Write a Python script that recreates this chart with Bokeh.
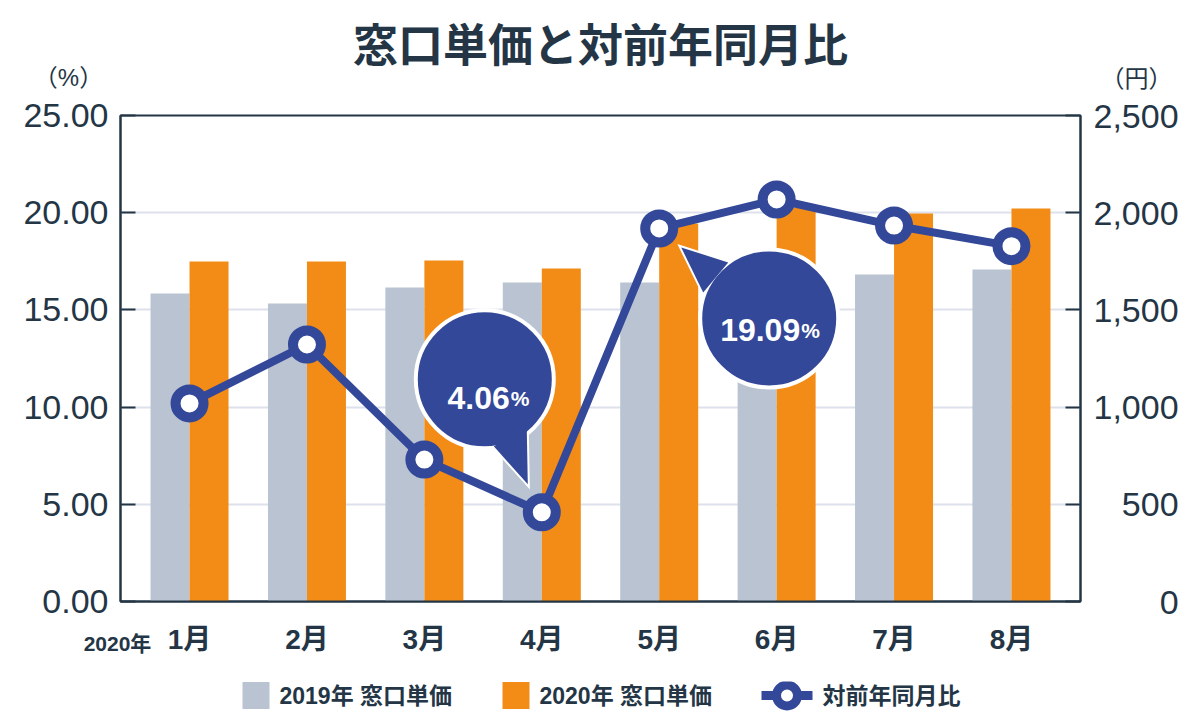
from bokeh.plotting import figure
from bokeh.layouts import column
from bokeh.models import (Range1d, LinearAxis, FixedTicker, Label,
                          ColumnDataSource, NumeralTickFormatter)
from bokeh.transform import dodge
from bokeh.core.properties import value
from bokeh.embed import file_html
from bokeh.resources import INLINE

# ---------------- data ----------------
title_text = "窓口単価と対前年同月比"
months = ["1月", "2月", "3月", "4月", "5月", "6月", "7月", "8月"]
year_label = "2020年"
price_2019 = [1584, 1533, 1615, 1641, 1641, 1680, 1682, 1708]
price_2020 = [1749, 1749, 1754, 1713, 1944, 2027, 1996, 2022]
yoy_pct = [10.19, 13.22, 7.30, 4.59, 19.19, 20.68, 19.34, 18.28]
pct_ticks = [0, 5, 10, 15, 20, 25]
yen_ticks = [0, 500, 1000, 1500, 2000, 2500]
callout_months = ["4月", "5月"]
callout_values = ["4.06", "19.09"]
series_names = ["2019年 窓口単価", "2020年 窓口単価", "対前年同月比"]
unit_left = "（%）"
unit_right = "（円）"

# ---------------- style ----------------
DARK = "#243646"
GREY = "#b9c3d2"
ORANGE = "#f28c17"
BLUE = "#334899"
GRID = "#dde1eb"
JP = "Noto Sans CJK JP"
NUM = "Liberation Sans, Noto Sans CJK JP"

PAGE_W, PAGE_H = 1200, 724
FRAME_L, FRAME_T, FRAME_W, FRAME_H = 120, 115, 960, 486
FRAME_R = PAGE_W - FRAME_L - FRAME_W
FRAME_B = FRAME_T + FRAME_H
TOP_H = 95                      # title strip height
MAIN_TOP = FRAME_T - TOP_H      # main figure border above the frame
MAIN_BOTTOM = 80                # main figure border below the frame
MAIN_H = MAIN_TOP + FRAME_H + MAIN_BOTTOM
LEG_TOP = TOP_H + MAIN_H
LEG_H = PAGE_H - LEG_TOP

X_PAD = 0.588
x_lo, x_hi = 1 - X_PAD, len(months) + X_PAD
y_lo, y_hi = 0, 25
yen_hi = 2500
PXX = FRAME_W / (x_hi - x_lo)
PXY = FRAME_H / (y_hi - y_lo)
BAR_W = 39 / PXX


def page_x(px):          # page pixel -> x data value (shared by all strips)
    return x_lo + (px - FRAME_L) / PXX


def page_y(py):          # page pixel -> percent data value (main plot)
    return y_lo + (FRAME_B - py) / PXY


# ================= title strip =================
t = figure(width=PAGE_W, height=TOP_H, x_range=Range1d(x_lo, x_hi),
           y_range=Range1d(TOP_H, 0), output_backend="svg", toolbar_location=None,
           x_axis_type=None, y_axis_type=None,
           min_border_left=FRAME_L, min_border_right=FRAME_R,
           min_border_top=0, min_border_bottom=0)
t.outline_line_color = None
t.grid.visible = False
t.background_fill_color = "white"
t.border_fill_color = "white"
t.add_layout(Label(x=page_x(600), y=42, text=title_text, text_align="center",
                   text_baseline="middle", text_font=JP, text_font_size="45px",
                   text_font_style="bold", text_color=DARK))
t.add_layout(Label(x=page_x(68), y=77, text=unit_left, text_align="center",
                   text_baseline="middle", text_font=NUM, text_font_size="24px",
                   text_color=DARK), "left")
t.add_layout(Label(x=page_x(1136), y=78, text=unit_right, text_align="center",
                   text_baseline="middle", text_font=NUM, text_font_size="24px",
                   text_color=DARK), "right")

# ================= main plot =================
p = figure(width=PAGE_W, height=MAIN_H,
           x_range=Range1d(x_lo, x_hi), y_range=Range1d(y_lo, y_hi),
           output_backend="svg", toolbar_location=None,
           min_border_left=FRAME_L, min_border_right=FRAME_R,
           min_border_top=MAIN_TOP, min_border_bottom=MAIN_BOTTOM)
p.extra_y_ranges = {"yen": Range1d(0, yen_hi)}
p.background_fill_color = "white"
p.border_fill_color = "white"
p.outline_line_color = DARK
p.outline_line_width = 2

p.xgrid.visible = False
p.ygrid.ticker = FixedTicker(ticks=pct_ticks)
p.ygrid.grid_line_color = GRID
p.ygrid.grid_line_width = 2

# left axis
la = p.left[0]
la.ticker = FixedTicker(ticks=pct_ticks)
la.formatter = NumeralTickFormatter(format="0.00")
la.major_label_text_font = NUM
la.major_label_text_font_size = "34px"
la.major_label_text_color = DARK
la.major_label_standoff = 12
la.major_tick_in = 15
la.major_tick_out = 0
la.major_tick_line_color = DARK
la.major_tick_line_width = 2
la.minor_tick_line_color = None
la.axis_line_color = DARK
la.axis_line_width = 2

# bottom axis
ba = p.below[0]
ba.ticker = FixedTicker(ticks=list(range(1, len(months) + 1)))
ba.major_label_overrides = {i + 1: m for i, m in enumerate(months)}
ba.major_label_text_font = NUM
ba.major_label_text_font_size = "28px"
ba.major_label_text_font_style = "bold"
ba.major_label_text_color = DARK
ba.major_label_standoff = 22
ba.major_tick_in = 0
ba.major_tick_out = 0
ba.minor_tick_line_color = None
ba.axis_line_color = DARK
ba.axis_line_width = 2

# right axis: labels right-aligned by padding with figure / punctuation spaces
yen_text = [f"{v:,}" for v in yen_ticks]
widest = max(yen_text, key=len)


def pad(s):
    prefix = widest[:len(widest) - len(s)]
    return "".join("\u2008" if c == "," else "\u2007" for c in prefix) + s


ra = LinearAxis(y_range_name="yen", ticker=FixedTicker(ticks=yen_ticks),
                major_label_overrides={v: pad(s) for v, s in zip(yen_ticks, yen_text)})
ra.major_label_text_font = NUM
ra.major_label_text_font_size = "34px"
ra.major_label_text_color = DARK
ra.major_label_standoff = 13
ra.major_tick_in = 15
ra.major_tick_out = 0
ra.major_tick_line_color = DARK
ra.major_tick_line_width = 2
ra.minor_tick_line_color = None
ra.axis_line_color = DARK
ra.axis_line_width = 2
p.add_layout(ra, "right")

# year label (side-panel annotation below the axis, positioned in data units)
p.add_layout(Label(x=page_x(117), y=page_y(643), text=year_label, text_align="center",
                   text_baseline="middle", text_font=NUM, text_font_size="21px",
                   text_font_style="bold", text_color=DARK), "below")

# bars + line
src = ColumnDataSource(dict(x=list(range(1, len(months) + 1)), p2019=price_2019,
                            p2020=price_2020, yoy=yoy_pct))
p.vbar(x=dodge("x", -BAR_W / 2, range=p.x_range), top="p2019", width=BAR_W, source=src,
       y_range_name="yen", fill_color=GREY, line_color=None)
p.vbar(x=dodge("x", BAR_W / 2, range=p.x_range), top="p2020", width=BAR_W, source=src,
       y_range_name="yen", fill_color=ORANGE, line_color=None)
p.line(x="x", y="yoy", source=src, line_color=BLUE, line_width=8)
p.scatter(x="x", y="yoy", source=src, size=28, fill_color="white",
          line_color=BLUE, line_width=10)

# callout bubbles (offsets in screen px relative to the annotated point)
bubble_geom = [
    dict(center=(-57, -133), tail=[(-14, -28), (-48, -66), (-15, -82)], text=(-32, -114)),
    dict(center=(110, 90), tail=[(22, 19), (44, 64), (69, 34)], text=(141, 102)),
]
for m, v, g in zip(callout_months, callout_values, bubble_geom):
    i = months.index(m)
    bx, by = i + 1, yoy_pct[i]

    def tx(o):
        return bx + o / PXX

    def ty(o):
        return by - o / PXY

    tail_x = [tx(a) for a, b in g["tail"]]
    tail_y = [ty(b) for a, b in g["tail"]]
    p.patch(tail_x, tail_y, fill_color=BLUE, line_color="white", line_width=4,
            line_join="miter")
    p.circle(x=[tx(g["center"][0])], y=[ty(g["center"][1])], radius=69,
             radius_units="screen", fill_color=BLUE, line_color="white", line_width=4)
    p.patch(tail_x, tail_y, fill_color=BLUE, line_color=None)
    p.add_layout(Label(x=tx(g["text"][0]), y=ty(g["text"][1]), text=v,
                       text_align="right", text_baseline="alphabetic",
                       text_font=NUM, text_font_size="32px",
                       text_font_style="bold", text_color="white"))
    p.add_layout(Label(x=tx(g["text"][0] + 1), y=ty(g["text"][1]), text="%",
                       text_align="left", text_baseline="alphabetic",
                       text_font=NUM, text_font_size="21px",
                       text_font_style="bold", text_color="white"))

# ================= legend strip =================
lg = figure(width=PAGE_W, height=LEG_H,
            x_range=Range1d(x_lo, x_hi), y_range=Range1d(PAGE_H, LEG_TOP),
            output_backend="svg", toolbar_location=None,
            x_axis_type=None, y_axis_type=None,
            min_border_left=FRAME_L, min_border_right=FRAME_R,
            min_border_top=0, min_border_bottom=0)
lg.outline_line_color = None
lg.grid.visible = False
lg.background_fill_color = "white"
lg.border_fill_color = "white"

LG_Y = 695
SW = 27
sq_left = [242, 502]
lg.quad(left=[page_x(a) for a in sq_left], right=[page_x(a + SW) for a in sq_left],
        top=[LG_Y - SW / 2] * 2, bottom=[LG_Y + SW / 2] * 2,
        fill_color=[GREY, ORANGE], line_color=None)
lg.line(x=[page_x(761), page_x(812)], y=[LG_Y, LG_Y], line_color=BLUE, line_width=9)
lg.scatter(x=[page_x(786.5)], y=[LG_Y], size=21, fill_color="white",
           line_color=BLUE, line_width=9)
lg_src = ColumnDataSource(dict(x=[page_x(a) for a in (279, 539, 822)], y=[LG_Y] * 3,
                               text=series_names))
lg.text(x="x", y="y", text="text", source=lg_src, text_align="left",
        text_baseline="middle", text_font=value(NUM), text_font_size=value("23px"),
        text_font_style="bold", text_color=DARK)

layout = column(t, p, lg, spacing=0)
open("out.html", "w").write(file_html(layout, INLINE))
